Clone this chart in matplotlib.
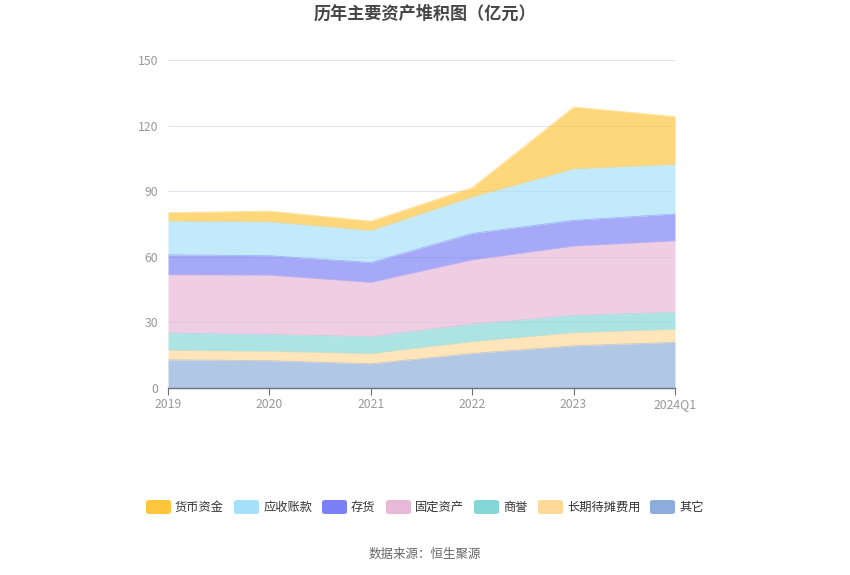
import matplotlib
matplotlib.use("Agg")
import matplotlib.pyplot as plt
from matplotlib.patches import FancyBboxPatch
import numpy as np

plt.rcParams['font.family'] = ['Noto Sans CJK SC', 'DejaVu Sans']

categories = ["2019", "2020", "2021", "2022", "2023", "2024Q1"]
series_names = ["货币资金", "应收账款", "存货", "固定资产", "商誉", "长期待摊费用", "其它"]
# values in 亿元 (bottom of stack is 其它)
other = [12.9, 12.5, 11.1, 15.8, 19.3, 20.9]
prepaid_lt = [4.3, 4.3, 4.6, 5.4, 6.0, 5.9]
goodwill = [7.9, 7.7, 7.8, 8.0, 7.9, 7.9]
fixed_assets = [26.7, 27.1, 24.8, 29.4, 31.7, 32.6]
inventory = [9.1, 8.9, 9.1, 12.1, 11.8, 12.3]
receivables = [15.4, 15.5, 14.6, 16.6, 23.5, 22.6]
cash = [3.9, 4.9, 4.3, 4.4, 28.3, 21.9]
y_ticks = [0, 30, 60, 90, 120, 150]

colors = {
    "货币资金": "#FFC53D",
    "应收账款": "#A6E0FA",
    "存货": "#7B80F5",
    "固定资产": "#E8B8D8",
    "商誉": "#85D7D7",
    "长期待摊费用": "#FFD998",
    "其它": "#8CADDB",
}

stack_order = [("其它", other), ("长期待摊费用", prepaid_lt), ("商誉", goodwill),
               ("固定资产", fixed_assets), ("存货", inventory),
               ("应收账款", receivables), ("货币资金", cash)]

fig = plt.figure(figsize=(8.5, 5.75), dpi=100)
ax = fig.add_axes([168/850, 1-388/575, (675-168)/850, (388-60)/575])

x = np.arange(len(categories))
base = np.zeros(len(categories))
for name, vals in stack_order:
    top = base + np.array(vals)
    ax.fill_between(x, base, top, color=colors[name], alpha=0.68, linewidth=0)
    ax.plot(x, top, color=colors[name], alpha=0.5, linewidth=0.6)
    base = top

ax.set_xlim(0, len(categories) - 1)
ax.set_ylim(0, 150)
ax.set_yticks(y_ticks)
ax.set_yticklabels([str(v) for v in y_ticks])
ax.set_xticks(x)
ax.set_xticklabels(categories)
ax.grid(axis='y', color='#E0E6F1', linewidth=0.8)
ax.set_axisbelow(True)
for s in ['top', 'right', 'left']:
    ax.spines[s].set_visible(False)
ax.spines['bottom'].set_color('#6E7079')
ax.spines['bottom'].set_linewidth(1)
ax.tick_params(axis='y', length=0, colors='#999999', labelsize=8.8, pad=7)
ax.tick_params(axis='x', length=5, color='#6E7079', labelcolor='#999999', labelsize=8.8, pad=2)

fig.text(0.5, 1-14/575, "历年主要资产堆积图（亿元）", ha='center', va='center',
         fontsize=12.3, fontweight='bold', color='#464646')

# legend
leg_x = [146, 234, 322, 386, 474, 538, 650]
leg_y = 507
for name, lx in zip(series_names, leg_x):
    p = FancyBboxPatch((lx/850, 1-(leg_y+7)/575), 25/850, 14/575,
                       boxstyle="round,pad=0,rounding_size=0.004",
                       transform=fig.transFigure, facecolor=colors[name],
                       edgecolor='none', figure=fig)
    fig.patches.append(p)
    fig.text((lx+29)/850, 1-leg_y/575, name, ha='left', va='center',
             fontsize=8.8, color='#333333')

fig.text(0.5, 1-554/575, "数据来源：恒生聚源", ha='center', va='center',
         fontsize=9, color='#666666')

fig.savefig("out.png", dpi=100)
